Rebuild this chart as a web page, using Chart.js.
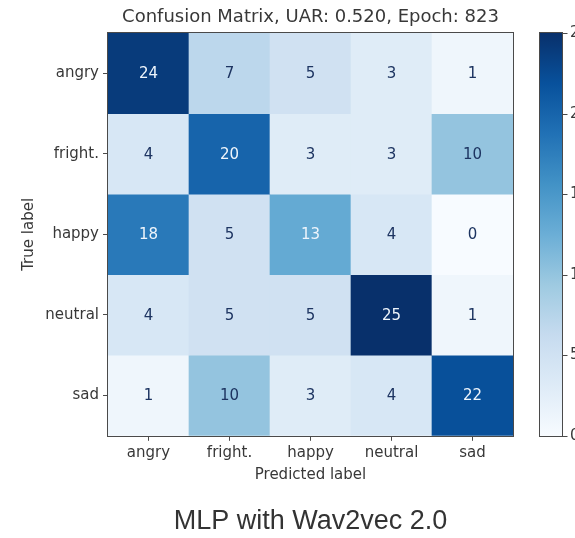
<!DOCTYPE html>
<html>
<head>
<meta charset="utf-8">
<script src="https://cdn.jsdelivr.net/npm/chart.js@4.4.1/dist/chart.umd.min.js"></script>
<style>
  html, body { margin: 0; padding: 0; background: #ffffff; overflow: hidden; }
  canvas { display: block; }
</style>
</head>
<body>
<canvas id="c" width="575" height="538"></canvas>
<script>
// ---- data ----
const predictedLabels = ['angry', 'fright.', 'happy', 'neutral', 'sad'];
const trueLabels = ['angry', 'fright.', 'happy', 'neutral', 'sad'];
const angryRow = [24, 7, 5, 3, 1];
const frightRow = [4, 20, 3, 3, 10];
const happyRow = [18, 5, 13, 4, 0];
const neutralRow = [4, 5, 5, 25, 1];
const sadRow = [1, 10, 3, 4, 22];
const matrixRows = [angryRow, frightRow, happyRow, neutralRow, sadRow];
const colorbarTicks = [0, 5, 10, 15, 20, 25];
const colorMin = 0;
const colorMax = 25;
const titleText = 'Confusion Matrix, UAR: 0.520, Epoch: 823';
const captionText = 'MLP with Wav2vec 2.0';
const xAxisTitle = 'Predicted label';
const yAxisTitle = 'True label';

// ---- styling ----
const FONT = '"DejaVu Sans", sans-serif';
const TEXT = '#383838';
const SPINE = '#4a4a4a';
const bluesStops = [
  [247, 251, 255], [222, 235, 247], [198, 219, 239], [158, 202, 225],
  [107, 174, 214], [66, 146, 198], [33, 113, 181], [8, 81, 156], [8, 48, 107]
];
function blues(t) {
  t = Math.max(0, Math.min(1, t));
  const p = t * (bluesStops.length - 1);
  const i = Math.min(bluesStops.length - 2, Math.floor(p));
  const f = p - i;
  const a = bluesStops[i], b = bluesStops[i + 1];
  const c = a.map((v, k) => Math.round(v + (b[k] - v) * f));
  return `rgb(${c[0]},${c[1]},${c[2]})`;
}
const norm = v => (v - colorMin) / (colorMax - colorMin);

const cellPlugin = {
  id: 'cellPlugin',
  afterDatasetsDraw(chart) {
    const ctx = chart.ctx;
    ctx.save();
    ctx.font = '15px ' + FONT;
    ctx.textAlign = 'center';
    ctx.textBaseline = 'middle';
    const thresh = (colorMax + colorMin) / 2;
    matrixRows.forEach((row, r) => {
      const meta = chart.getDatasetMeta(r);
      row.forEach((v, c) => {
        const bar = meta.data[c];
        const p = bar.getProps(['x', 'y', 'base'], true);
        ctx.fillStyle = v > thresh ? '#eef5fc' : '#1d3461';
        ctx.fillText(String(v), p.x, (p.y + p.base) / 2 + 1);
      });
    });
    const a = chart.chartArea;
    ctx.strokeStyle = SPINE;
    ctx.lineWidth = 1;
    ctx.strokeRect(Math.round(a.left) - 0.5, Math.round(a.top) - 0.5,
      Math.round(a.right - a.left) + 1, Math.round(a.bottom - a.top) + 1);
    ctx.restore();
  },
  afterDraw(chart) {
    const ctx = chart.ctx;
    const cb = chart.scales.cb;
    const yTop = cb.getPixelForValue(colorMax);
    const yBot = cb.getPixelForValue(colorMin);
    const x0 = 540, w = 22;
    ctx.save();
    const g = ctx.createLinearGradient(0, yBot, 0, yTop);
    bluesStops.forEach((c, i) => g.addColorStop(i / (bluesStops.length - 1), `rgb(${c[0]},${c[1]},${c[2]})`));
    ctx.fillStyle = g;
    ctx.fillRect(x0, yTop, w, yBot - yTop);
    ctx.strokeStyle = SPINE;
    ctx.lineWidth = 1;
    ctx.strokeRect(x0 - 0.5, Math.round(yTop) - 0.5, w + 1, Math.round(yBot - yTop) + 1);
    ctx.font = '15px ' + FONT;
    ctx.fillStyle = TEXT;
    ctx.textAlign = 'left';
    ctx.textBaseline = 'middle';
    colorbarTicks.forEach(t => {
      const y = Math.round(cb.getPixelForValue(t)) + 0.5;
      ctx.beginPath();
      ctx.moveTo(x0 + w + 0.5, y);
      ctx.lineTo(x0 + w + 5.5, y);
      ctx.stroke();
      ctx.fillText(String(t), x0 + w + 8, y);
    });
    ctx.restore();
  }
};

new Chart(document.getElementById('c'), {
  type: 'bar',
  data: {
    labels: predictedLabels,
    datasets: matrixRows.map((row, r) => ({
      label: trueLabels[r],
      data: row.map(() => [r, r + 1]),
      backgroundColor: row.map(v => blues(norm(v))),
      borderWidth: 0,
      grouped: false,
      barPercentage: 1,
      categoryPercentage: 1
    }))
  },
  options: {
    responsive: false,
    animation: false,
    devicePixelRatio: 1,
    layout: { padding: { left: 0, right: 62, top: 0, bottom: 0 } },
    plugins: {
      legend: { display: false },
      tooltip: { enabled: false },
      title: {
        display: true, text: titleText, fullSize: false, color: TEXT,
        font: { family: FONT, size: 18, weight: 'normal', lineHeight: 1.2 },
        padding: { top: 7, bottom: 4.4 }
      },
      subtitle: {
        display: true, position: 'bottom', text: captionText, fullSize: false, color: '#333333',
        font: { family: '"Liberation Sans", Arial, sans-serif', size: 27, weight: 'normal', lineHeight: 1.2 },
        padding: { top: 19.8, bottom: 0 }
      }
    },
    scales: {
      x: {
        type: 'category',
        offset: true,
        grid: { display: true, offset: false, drawOnChartArea: false, drawTicks: true, tickLength: 5, color: SPINE },
        border: { display: false },
        ticks: { color: TEXT, font: { family: FONT, size: 15 }, padding: 3, maxRotation: 0, autoSkip: false },
        title: { display: true, text: xAxisTitle, color: TEXT, font: { family: FONT, size: 15 }, padding: { top: 0, bottom: 2 } },
        afterFit: s => { s.height = 50; }
      },
      y: {
        type: 'linear', min: 0, max: 5, reverse: true,
        afterBuildTicks: s => { s.ticks = trueLabels.map((_, i) => ({ value: i + 0.5 })); },
        grid: { display: true, drawOnChartArea: false, drawTicks: true, tickLength: 5, color: SPINE },
        border: { display: false },
        ticks: { color: TEXT, font: { family: FONT, size: 15 }, padding: 4, callback: (v, i) => trueLabels[i] },
        title: { display: true, text: yAxisTitle, color: TEXT, font: { family: FONT, size: 15 }, padding: { top: 20, bottom: 0 } },
        afterFit: s => { s.width = 108; }
      },
      cb: {
        type: 'linear', position: 'right', display: false, min: colorMin, max: colorMax
      }
    }
  },
  plugins: [cellPlugin]
});
</script>
</body>
</html>
